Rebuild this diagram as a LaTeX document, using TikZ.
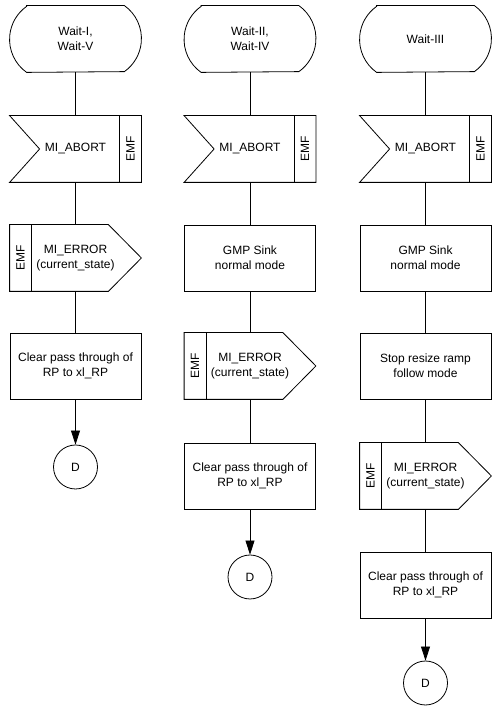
\documentclass[tikz,border=0pt]{standalone}
\usepackage{fontspec}
\setmainfont{Liberation Sans}
\usepackage{tikz}
\usetikzlibrary{arrows.meta}

\tikzset{
  every node/.style={font=\fontsize{12}{15}\selectfont, align=center, inner sep=0pt},
  sdlbox/.style={minimum width=131pt, minimum height=66pt},
  task/.style={sdlbox, draw},
  % state: flat top and bottom, round sides
  state/.style={sdlbox, append after command={\pgfextra{\let\sdl\tikzlastnode
      \draw ([xshift=17pt]\sdl.north west) -- ([xshift=-17pt]\sdl.north east)
        arc[start angle=54.6, end angle=-54.6, radius=40.5pt]
        -- ([xshift=17pt]\sdl.south west)
        arc[start angle=234.6, end angle=125.4, radius=40.5pt] -- cycle;}}},
  % input signal with EMF strip on the right
  input/.style={sdlbox, append after command={\pgfextra{\let\sdl\tikzlastnode
      \draw (\sdl.north west) -- (\sdl.north east) -- (\sdl.south east)
        -- (\sdl.south west) -- ([xshift=30pt]\sdl.west) -- cycle;
      \draw ([xshift=-22pt]\sdl.north east) -- ([xshift=-22pt]\sdl.south east);
      \node[rotate=90] (\sdl-emf) at ([xshift=-11pt]\sdl.east) {EMF};}}},
  % output signal with EMF strip on the left
  output/.style={sdlbox, append after command={\pgfextra{\let\sdl\tikzlastnode
      \draw (\sdl.north west) -- ([xshift=-33pt]\sdl.north east) -- (\sdl.east)
        -- ([xshift=-33pt]\sdl.south east) -- (\sdl.south west) -- cycle;
      \draw ([xshift=22pt]\sdl.north west) -- ([xshift=22pt]\sdl.south west);
      \node[rotate=90] (\sdl-emf) at ([xshift=11pt]\sdl.west) {EMF};}}},
  connector/.style={circle, draw, minimum size=44pt}
}

\begin{document}
\begin{tikzpicture}[x=1pt,y=1pt,line width=0.8pt,>={Triangle[length=14pt,width=9pt]}]
	\useasboundingbox (0,0) rectangle (491,706);

	% first column
	\node[state]     (waitA)  at (75.5,667) {Wait-I,\\Wait-V};
	\node[input]     (abortA) at (75.5,557) {MI\_ABORT};
	\node[output]    (errA)   at (75.5,448) {MI\_ERROR\\(current\_state)};
	\node[task]      (clrA)   at (75.5,340) {Clear pass through of\\RP to xl\_RP};
	\node[connector] (dA)     at (75.5,239) {D};

	% second column
	\node[state]     (waitB)  at (250,667) {Wait-II,\\Wait-IV};
	\node[input]     (abortB) at (250,557) {MI\_ABORT};
	\node[task]      (gmpB)   at (250,448) {GMP Sink\\normal mode};
	\node[output]    (errB)   at (250,340) {MI\_ERROR\\(current\_state)};
	\node[task]      (clrB)   at (250,230) {Clear pass through of\\RP to xl\_RP};
	\node[connector] (dB)     at (250,129) {D};

	% third column
	\node[state]     (waitC)  at (425.5,667) {Wait-III};
	\node[input]     (abortC) at (425.5,557) {MI\_ABORT};
	\node[task]      (gmpC)   at (425.5,448) {GMP Sink\\normal mode};
	\node[task]      (stopC)  at (425.5,340) {Stop resize ramp\\follow mode};
	\node[output]    (errC)   at (425.5,230) {MI\_ERROR\\(current\_state)};
	\node[task]      (clrC)   at (425.5,121) {Clear pass through of\\RP to xl\_RP};
	\node[connector] (dC)     at (425.5,23)  {D};

	\draw (waitA) -- (abortA) -- (errA) -- (clrA);
	\draw[->] (clrA) -- (dA);
	\draw (waitB) -- (abortB) -- (gmpB) -- (errB) -- (clrB);
	\draw[->] (clrB) -- (dB);
	\draw (waitC) -- (abortC) -- (gmpC) -- (stopC) -- (errC) -- (clrC);
	\draw[->] (clrC) -- (dC);
\end{tikzpicture}
\end{document}
